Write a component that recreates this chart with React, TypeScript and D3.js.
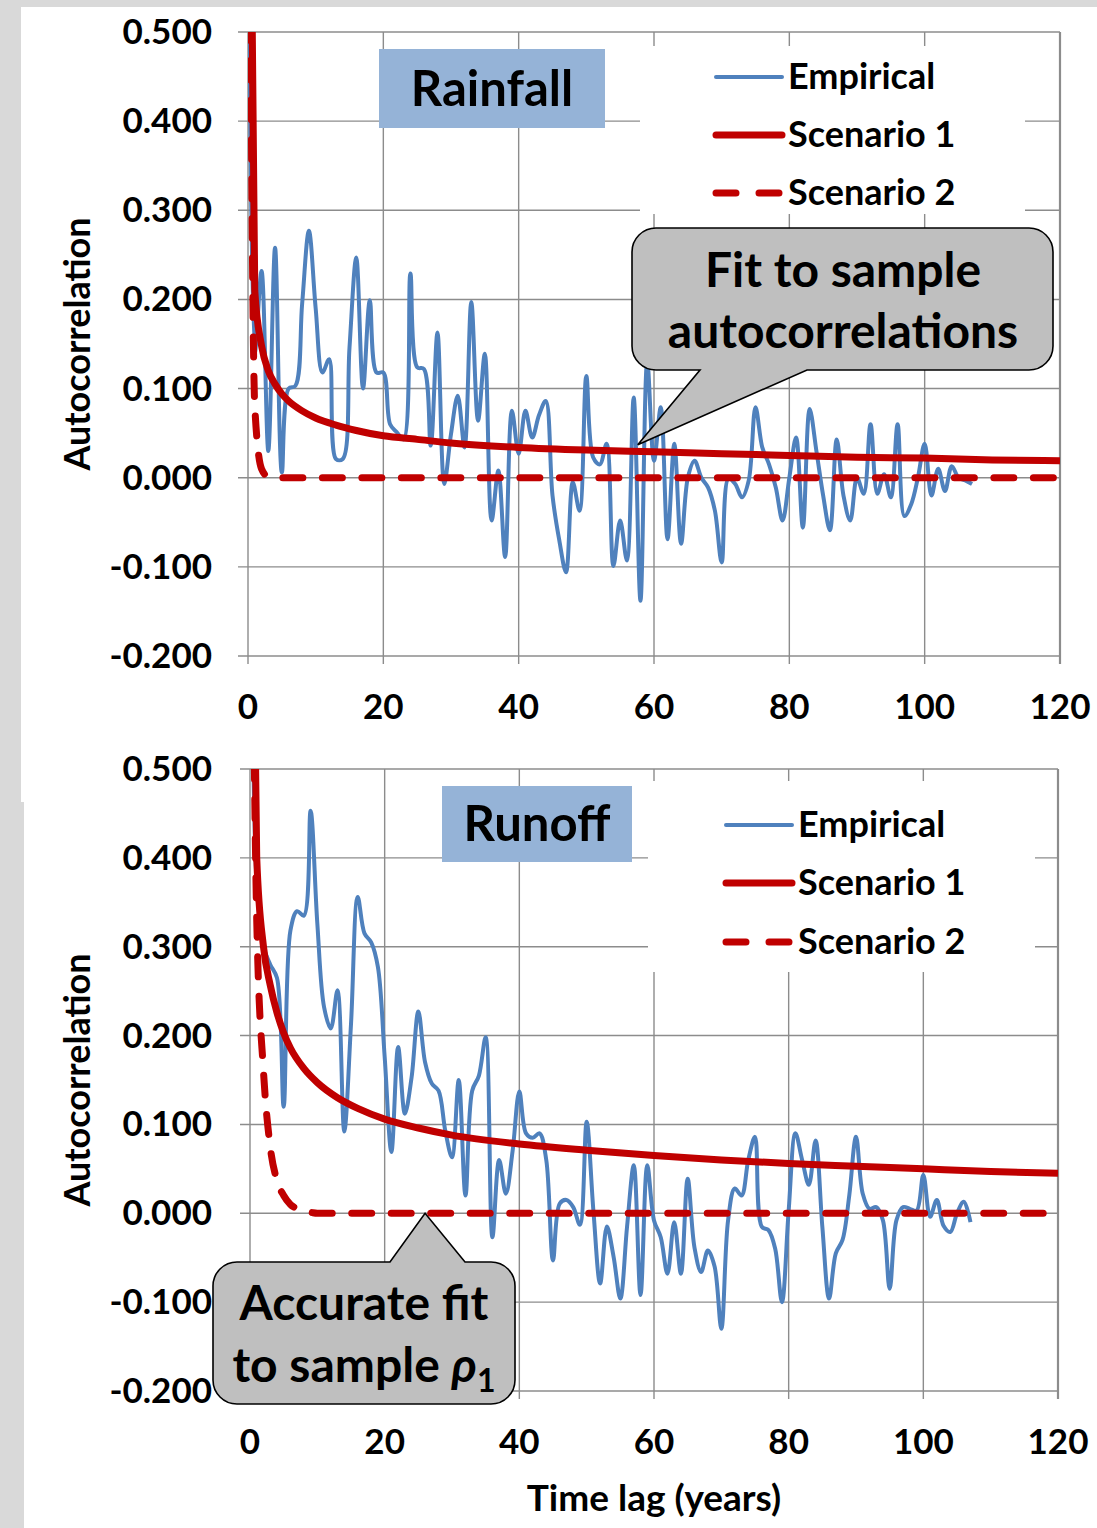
import React from "react";
import * as d3 from "d3";

// empirical autocorrelations, index = lag (years)
const rainfallEmpirical = [
  1.0, 0.14, 0.232, 0.03, 0.258, 0.006, 0.1, 0.103, 0.195, 0.277,
  0.19, 0.118, 0.133, 0.021, 0.021, 0.146, 0.247, 0.1, 0.199, 0.118,
  0.118, 0.06, 0.051, 0.043, 0.229, 0.124, 0.122, 0.036, 0.163, -0.007,
  0.049, 0.092, 0.034, 0.197, 0.064, 0.139, -0.048, 0.008, -0.089, 0.075,
  0.027, 0.075, 0.045, 0.07, 0.086, -0.02, -0.07, -0.106, -0.005, -0.037,
  0.114, 0.023, 0.015, 0.038, -0.099, -0.048, -0.093, 0.09, -0.138, 0.131,
  0.019, 0.079, -0.069, 0.038, -0.074, 0.0, 0.019, 0.0, -0.011, -0.037,
  -0.095, -0.001, -0.007, -0.022, -0.003, 0.079, 0.034, 0.015, -0.011, -0.048,
  0.0, 0.045, -0.056, 0.077, 0.03, -0.02, -0.059, 0.043, -0.02, -0.048,
  0.0, -0.018, 0.06, -0.018, 0.004, -0.022, 0.06, -0.043, -0.03, 0.0,
  0.038, -0.02, 0.01, -0.015, 0.013, 0.0, -0.003, -0.007,
];

const runoffEmpirical = [
  1.0, 0.37, 0.3, 0.28, 0.265, 0.12, 0.318, 0.34, 0.335, 0.453,
  0.326, 0.232, 0.208, 0.251, 0.092, 0.213, 0.356, 0.315, 0.305, 0.277,
  0.176, 0.069, 0.187, 0.112, 0.153, 0.227, 0.17, 0.146, 0.138, 0.093,
  0.063, 0.15, 0.02, 0.138, 0.155, 0.198, -0.027, 0.06, 0.022, 0.07,
  0.137, 0.09, 0.085, 0.09, 0.06, -0.053, 0.011, 0.015, 0.007, -0.013,
  0.103, 0.003, -0.079, -0.015, -0.049, -0.096, -0.015, 0.054, -0.092, 0.054,
  -0.008, -0.027, -0.068, -0.01, -0.068, 0.039, -0.038, -0.066, -0.042, -0.06,
  -0.13, -0.008, 0.028, 0.02, 0.06, 0.086, -0.015, -0.019, -0.04, -0.1,
  0.003, 0.09, 0.06, 0.032, 0.082, -0.015, -0.096, -0.045, -0.03, 0.02,
  0.086, 0.022, 0.005, 0.007, -0.008, -0.085, -0.008, 0.007, 0.005, 0.003,
  0.043, -0.004, 0.015, -0.014, -0.021, 0.0, 0.013, -0.01,
];

// fitted model curves (lag, value)
const s1Lags = [0, 1, 2, 3, 4, 5, 6, 8, 10, 13, 16, 20, 25, 30, 40, 50, 60, 70, 80, 90, 100, 110, 120];
const rainfallS1 = [1.0, 0.21, 0.148, 0.12, 0.105, 0.094, 0.086, 0.075, 0.067, 0.059, 0.053, 0.047, 0.043, 0.039, 0.034, 0.031, 0.029, 0.027, 0.025, 0.023, 0.022, 0.02, 0.019];
const runoffS1 = [1.0, 0.4, 0.3, 0.257, 0.226, 0.203, 0.186, 0.163, 0.147, 0.13, 0.118, 0.106, 0.096, 0.088, 0.078, 0.071, 0.065, 0.06, 0.056, 0.053, 0.05, 0.047, 0.045];

const s2Lags = [0, 1, 2, 3, 4, 5, 6, 7, 8, 9, 10, 120];
const rainfallS2 = [1.0, 0.08, 0.01, 0.001, 0, 0, 0, 0, 0, 0, 0, 0];
const runoffS2 = [1.0, 0.33, 0.16, 0.075, 0.037, 0.02, 0.01, 0.005, 0.002, 0.001, 0, 0];

const yTicks = [0.5, 0.4, 0.3, 0.2, 0.1, 0.0, -0.1, -0.2];
const xTicks = [0, 20, 40, 60, 80, 100, 120];
const legendItems = ["Empirical", "Scenario 1", "Scenario 2"];

const FONT = "Lato, 'Open Sans', sans-serif";
const BLUE = "#4f81bd";
const RED = "#c00000";
const GRID = "#8c8c8c";
const fmt = (v: number) => d3.format(".3f")(v).replace("\u2212", "-");

function calloutPath(x0: number, y0: number, x1: number, y1: number, r: number, tail: { side: "top" | "bottom"; a: number; b: number; tx: number; ty: number }) {
  const { side, a, b, tx, ty } = tail;
  let p = `M${x0 + r},${y0}`;
  if (side === "top") p += `H${a}L${tx},${ty}L${b},${y0}`;
  p += `H${x1 - r}A${r},${r} 0 0 1 ${x1},${y0 + r}V${y1 - r}A${r},${r} 0 0 1 ${x1 - r},${y1}`;
  if (side === "bottom") p += `H${b}L${tx},${ty}L${a},${y1}`;
  p += `H${x0 + r}A${r},${r} 0 0 1 ${x0},${y1 - r}V${y0 + r}A${r},${r} 0 0 1 ${x0 + r},${y0}Z`;
  return p;
}

type PanelProps = {
  id: string;
  left: number; right: number; top: number; bottom: number;
  empirical: number[]; s1: number[]; s2: number[];
  title: string; titleBox: [number, number, number, number];
  legendBox: [number, number, number, number];
  legendX: number; legendY: number[];
};

const Panel = (p: PanelProps) => {
  const x = d3.scaleLinear().domain([0, 120]).range([p.left, p.right]);
  const y = d3.scaleLinear().domain([-0.2, 0.5]).range([p.bottom, p.top]);

  const smooth = d3.line<number>().x((_, i) => x(i)).y((d) => y(d)).curve(d3.curveCatmullRom.alpha(0.5));
  const s1Line = d3.line<number>().x((_, i) => x(s1Lags[i])).y((d) => y(d)).curve(d3.curveMonotoneX);
  const s2Line = d3.line<number>().x((_, i) => x(s2Lags[i])).y((d) => y(d)).curve(d3.curveMonotoneX);

  const [tbx, tby, tbw, tbh] = p.titleBox;
  const [lbx, lby, lbw, lbh] = p.legendBox;

  return (
    <g>
      <defs>
        <clipPath id={p.id}>
          <rect x={p.left} y={p.top} width={p.right - p.left} height={p.bottom - p.top} />
        </clipPath>
      </defs>
      {yTicks.map((t) => (
        <g key={"y" + t}>
          <line x1={p.left - 10} x2={p.right} y1={y(t)} y2={y(t)} stroke={GRID} strokeWidth={1.4} />
          <text x={212} y={y(t) + 12} textAnchor="end" fontSize={35}>{fmt(t)}</text>
        </g>
      ))}
      {xTicks.map((t) => (
        <g key={"x" + t}>
          <line x1={x(t)} x2={x(t)} y1={p.top} y2={p.bottom + 8} stroke={GRID} strokeWidth={t === 120 ? 2.2 : 1.4} />
          <text x={x(t)} y={p.bottom + 63} textAnchor="middle" fontSize={35}>{t}</text>
        </g>
      ))}
      <text transform={`translate(90,${(p.top + p.bottom) / 2}) rotate(-90)`} textAnchor="middle" fontSize={36}>Autocorrelation</text>

      {/* title and legend boxes hide the grid below them */}
      <rect x={tbx} y={tby} width={tbw} height={tbh} fill="#95b3d7" />
      <text x={tbx + tbw / 2} y={tby + tbh / 2 + 17} textAnchor="middle" fontSize={49}>{p.title}</text>
      <rect x={lbx} y={lby} width={lbw} height={lbh} fill="#fff" />
      {legendItems.map((name, i) => (
        <g key={name}>
          <line x1={p.legendX} x2={p.legendX + 66} y1={p.legendY[i]} y2={p.legendY[i]}
            stroke={i === 0 ? BLUE : RED} strokeWidth={i === 0 ? 4 : 7} strokeLinecap="round"
            strokeDasharray={i === 2 ? "20 23" : undefined} />
          <text x={p.legendX + 72} y={p.legendY[i] + 12} fontSize={36}>{name}</text>
        </g>
      ))}

      <g clipPath={`url(#${p.id})`} fill="none">
        <path d={smooth(p.empirical) || ""} stroke={BLUE} strokeWidth={4} strokeLinejoin="round" />
        <path d={s1Line(p.s1) || ""} stroke={RED} strokeWidth={7} />
        <path d={s2Line(p.s2) || ""} stroke={RED} strokeWidth={7} strokeDasharray="20 19.5" strokeLinecap="round" />
      </g>
    </g>
  );
};

export default function App() {
  const xTop = d3.scaleLinear().domain([0, 120]).range([248, 1060]);
  const yTop = d3.scaleLinear().domain([-0.2, 0.5]).range([656, 32]);
  const xBot = d3.scaleLinear().domain([0, 120]).range([250, 1058]);
  const yBot = d3.scaleLinear().domain([-0.2, 0.5]).range([1391, 769]);

  return (
    <svg width={1097} height={1528} style={{ position: "absolute", left: 0, top: 0 }}
      fontFamily={FONT} fontWeight={700} fill="#000">
      <rect width={1097} height={1528} fill="#d9d9d9" />
      <rect x={21} y={7} width={1076} height={795} fill="#fff" />
      <rect x={24} y={800} width={1073} height={728} fill="#fff" />

      <Panel id="clipTop" left={248} right={1060} top={32} bottom={656}
        empirical={rainfallEmpirical} s1={rainfallS1} s2={rainfallS2}
        title="Rainfall" titleBox={[379, 49, 226, 79]}
        legendBox={[640, 46, 385, 168]} legendX={716} legendY={[77, 135, 193]} />
      <Panel id="clipBot" left={250} right={1058} top={769} bottom={1391}
        empirical={runoffEmpirical} s1={runoffS1} s2={runoffS2}
        title="Runoff" titleBox={[442, 786, 190, 76]}
        legendBox={[648, 781, 387, 191]} legendX={726} legendY={[825, 883, 942]} />

      <path d={calloutPath(632, 228, 1053, 370, 24, { side: "bottom", a: 700, b: 807, tx: xTop(57.6), ty: yTop(0.037) })}
        fill="#bfbfbf" stroke="#000" strokeWidth={1.6} />
      <text x={843} y={287} textAnchor="middle" fontSize={48}>Fit to sample</text>
      <text x={843} y={348} textAnchor="middle" fontSize={48}>autocorrelations</text>

      <path d={calloutPath(213, 1262, 515, 1404, 24, { side: "top", a: 390, b: 465, tx: xBot(26), ty: yBot(0) })}
        fill="#bfbfbf" stroke="#000" strokeWidth={1.6} />
      <text x={364} y={1320} textAnchor="middle" fontSize={48}>Accurate fit</text>
      <text x={364} y={1382} textAnchor="middle" fontSize={48}>
        to sample <tspan fontStyle="italic">ρ</tspan><tspan fontSize={32} dy={10}>1</tspan>
      </text>

      <text x={654} y={1511} textAnchor="middle" fontSize={37}>Time lag (years)</text>
    </svg>
  );
}
